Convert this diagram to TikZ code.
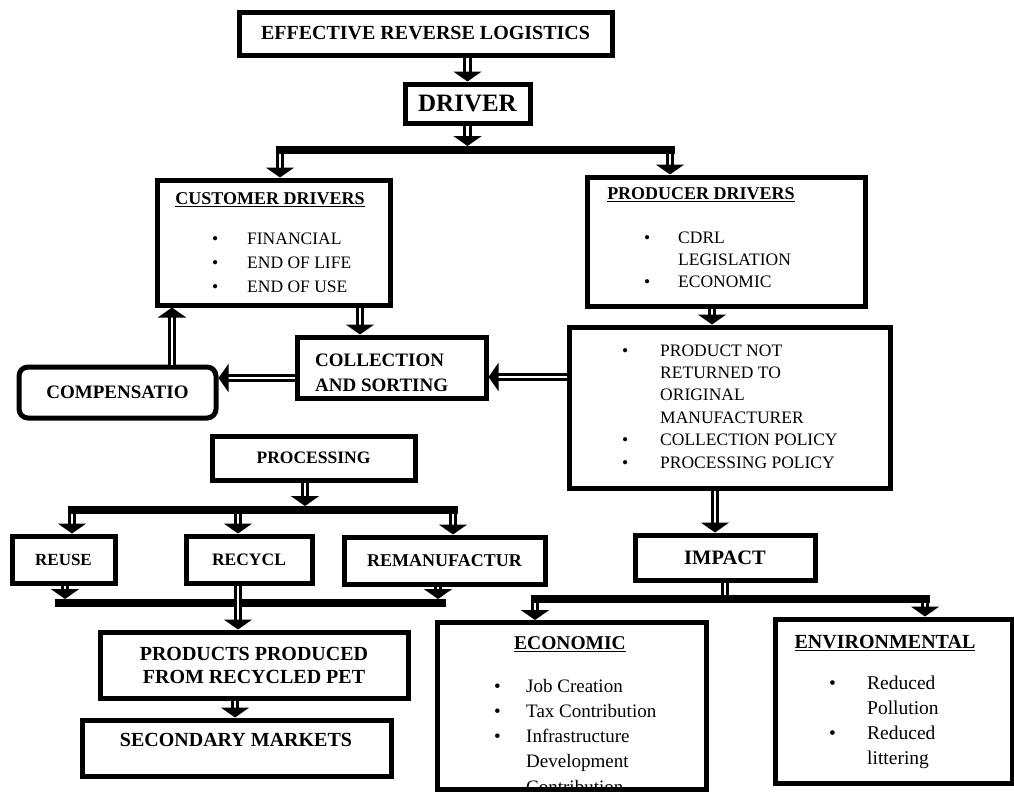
\documentclass[tikz,border=0pt]{standalone}
\usepackage{fontspec}
\setmainfont{Liberation Serif}
\usetikzlibrary{arrows.meta,calc}
\newcommand\fsz[2]{\fontsize{#1}{#2}\selectfont}
\newcommand\blist[2]{\begin{tabular}[t]{@{}p{#1}@{}l@{}}#2\end{tabular}}
\begin{document}
\begin{tikzpicture}[x=1pt,y=-1pt,
  box/.style={draw=black,line width=5pt,rectangle,inner sep=0pt,align=center,font=\bfseries},
  arr/.style={draw=black,line width=3.3pt,double=white,double distance=2.2pt,-{Triangle[length=10pt,width=28pt]}},
  shaft/.style={draw=black,line width=3.3pt,double=white,double distance=2.2pt},
  bar/.style={draw=black,line width=8pt},
  lst/.style={inner sep=0pt,anchor=base west},
  ttl/.style={inner sep=0pt,font=\bfseries\fsz{18}{20}},
]
\fill[white] (0,0) rectangle (1014,793);
\useasboundingbox (0,0) rectangle (1014,793);

% ---------- boxes ----------
\node[box,minimum width=373pt,minimum height=43pt,font=\bfseries\fsz{20}{24}] (top) at (425.5,33.5) {EFFECTIVE REVERSE LOGISTICS};
\node[box,minimum width=125pt,minimum height=39pt,font=\bfseries\fsz{25}{28}] (driver) at (467.5,103.5) {DRIVER};

\node[box,minimum width=233pt,minimum height=125pt] (cust) at (273.5,242.5) {};
\node[ttl] (custT) at (270,200) {\underline{CUSTOMER DRIVERS}};
\node[lst,font=\fsz{17.5}{24}] (custL) at (212,244) {\blist{35pt}{\textbullet & FINANCIAL\\ \textbullet & END OF LIFE\\ \textbullet & END OF USE}};

\node[box,minimum width=278pt,minimum height=129pt] (prod) at (726,241.5) {};
\node[ttl] (prodT) at (701,195) {\underline{PRODUCER DRIVERS}};
\node[lst,font=\fsz{17.5}{22}] (prodL) at (644,243) {\blist{34pt}{\textbullet & CDRL\\ & LEGISLATION\\ \textbullet & ECONOMIC}};

\node[box,minimum width=321pt,minimum height=161pt] (policy) at (729.5,407.5) {};
\node[lst,font=\fsz{17.5}{22.4}] (policyL) at (622,356) {\blist{38pt}{\textbullet & PRODUCT NOT\\ & RETURNED TO\\ & ORIGINAL\\ & MANUFACTURER\\ \textbullet & COLLECTION POLICY\\ \textbullet & PROCESSING POLICY}};

\node[box,minimum width=189pt,minimum height=61pt] (coll) at (391.5,367.5) {};
\begin{scope}
\clip (295,337) rectangle (488,392);
\node[lst,font=\bfseries\fsz{19}{25}] (collT) at (315,366) {\begin{tabular}[t]{@{}l@{}}COLLECTION\\AND SORTING\end{tabular}};
\end{scope}

\node[box,minimum width=197pt,minimum height=51pt,rounded corners=9pt,font=\bfseries\fsz{19}{22}] (comp) at (117.5,392.5) {COMPENSATIO};

\node[box,minimum width=203pt,minimum height=44pt,font=\bfseries\fsz{17.5}{20}] (proc) at (313.5,458) {PROCESSING};
\node[box,minimum width=103pt,minimum height=47pt,font=\bfseries\fsz{17}{20}] (reuse) at (63.5,559.5) {REUSE};
\node[box,minimum width=126pt,minimum height=47pt,font=\bfseries\fsz{17.5}{20}] (recycl) at (249,559.5) {RECYCL};
\node[box,minimum width=201pt,minimum height=47pt,font=\bfseries\fsz{18}{20}] (reman) at (444.5,560.5) {REMANUFACTUR};

\node[box,minimum width=308pt,minimum height=66pt,font=\bfseries\fsz{20}{23}] (products) at (254,665) {PRODUCTS PRODUCED\\FROM RECYCLED PET};
\node[box,minimum width=309pt,minimum height=56pt] (sec) at (236.5,748) {};
\node[inner sep=0pt,font=\bfseries\fsz{20}{23}] (secT) at (236,740) {SECONDARY MARKETS};

\node[box,minimum width=180pt,minimum height=45pt,font=\bfseries\fsz{20.5}{23}] (impact) at (725,557.5) {IMPACT};

\node[box,minimum width=269pt,minimum height=167pt] (econ) at (571.5,706) {};
\node[inner sep=0pt,font=\bfseries\fsz{19.5}{22}] (econT) at (570,644) {\underline{ECONOMIC}};
\begin{scope}
\clip (437,622) rectangle (706,786);
\node[lst,font=\fsz{19}{25.3}] (econL) at (494,692) {\blist{32pt}{\textbullet & Job Creation\\ \textbullet & Tax Contribution\\ \textbullet & Infrastructure\\ & Development\\ & Contribution}};
\end{scope}

\node[box,minimum width=237pt,minimum height=164pt] (env) at (893.5,701) {};
\node[inner sep=0pt,font=\bfseries\fsz{20}{22}] (envT) at (885,643) {\underline{ENVIRONMENTAL}};
\node[lst,font=\fsz{19.5}{25.3}] (envL) at (829,689) {\blist{38pt}{\textbullet & Reduced\\ & Pollution\\ \textbullet & Reduced\\ & littering}};

% ---------- connectors ----------
\coordinate (b1) at (467.5,150);
\coordinate (b1L) at (280,150);
\coordinate (b1R) at (670,150);
\draw[arr] (top.south -| driver.north) -- (driver.north);
\draw[arr] (driver.south) -- ($(b1)+(0,-4)$);
\draw[bar] ($(b1L)+(-4.5,0)$) -- ($(b1R)+(4.5,0)$);
\draw[arr] ($(b1L)+(0,4)$) -- (b1L |- cust.north);
\draw[arr] ($(b1R)+(0,4)$) -- (b1R |- prod.north);

\coordinate (c1) at (360,0);
\coordinate (c2) at (172,0);
\draw[arr] (c1 |- cust.south) -- (c1 |- coll.north);
\draw[arr] (c2 |- comp.north) -- (c2 |- cust.south);

\coordinate (p1) at (712,0);
\coordinate (p2) at (715,0);
\draw[arr] (p1 |- prod.south) -- (p1 |- policy.north);
\draw[arr] (p2 |- policy.south) -- (p2 |- impact.north);

\coordinate (r1) at (0,377);
\coordinate (r2) at (0,378);
\draw[arr] (policy.west |- r1) -- (coll.east |- r1);
\draw[arr] (coll.west |- r2) -- (comp.east |- r2);

% processing tree
\coordinate (q) at (305,510);
\coordinate (qa) at (72,510);
\coordinate (qb) at (238,510);
\coordinate (qc) at (453,510);
\draw[arr] (q |- proc.south) -- ($(q)+(0,-4)$);
\draw[bar] ($(qa)+(-4.5,0)$) -- ($(qc)+(4.5,0)$);
\draw[arr] ($(qa)+(0,4)$) -- (qa |- reuse.north);
\draw[arr] ($(qb)+(0,4)$) -- (qb |- recycl.north);
\draw[arr] ($(qc)+(0,4)$) -- (qc |- reman.north);

\coordinate (qd) at (65,603);
\coordinate (qe) at (438,603);
\draw[bar] (55,603) -- (446,603);
\draw[arr] (qd |- reuse.south) -- ($(qd)+(0,-4)$);
\draw[arr] (qe |- reman.south) -- ($(qe)+(0,-4)$);
\draw[arr] (qb |- recycl.south) -- (qb |- products.north);

\coordinate (s1) at (235,0);
\draw[arr] (s1 |- products.south) -- (s1 |- sec.north);

% impact tree
\coordinate (i1) at (725,599);
\coordinate (ia) at (535,599);
\coordinate (ib) at (925,599);
\draw[shaft] (impact.south) -- ($(i1)+(0,-4)$);
\draw[bar] ($(ia)+(-4.5,0)$) -- ($(ib)+(4.5,0)$);
\draw[arr] ($(ia)+(0,4)$) -- (ia |- econ.north);
\draw[arr] ($(ib)+(0,4)$) -- (ib |- env.north);
\end{tikzpicture}
\end{document}
